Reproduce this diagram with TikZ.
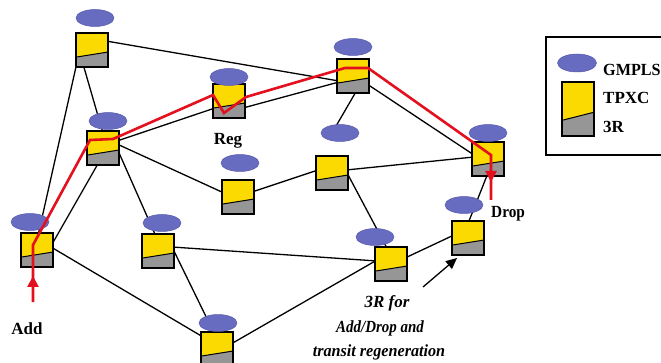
\documentclass[tikz,border=0pt]{standalone}
\usepackage{fontspec}
\setmainfont{Liberation Serif}
\usetikzlibrary{shapes.geometric,calc,backgrounds,arrows.meta}
\definecolor{gmpls}{RGB}{104,108,192}
\definecolor{gmplsline}{RGB}{86,90,172}
\definecolor{tpxcy}{RGB}{250,218,0}
\definecolor{regray}{RGB}{150,150,150}
\definecolor{pathred}{RGB}{228,16,30}
\begin{document}
\begin{tikzpicture}[x=1pt,y=-1pt,
  tpxc/.style={draw=black, line width=1.6pt, minimum width=32pt, minimum height=34pt, inner sep=0pt,
    path picture={
      \fill[tpxcy] (path picture bounding box.south west) rectangle (path picture bounding box.north east);
      \coordinate (dl) at ($(path picture bounding box.south west)!0.29!(path picture bounding box.north west)$);
      \coordinate (dr) at ($(path picture bounding box.south east)!0.44!(path picture bounding box.north east)$);
      \fill[regray] (path picture bounding box.south west) -- (dl) -- (dr) -- (path picture bounding box.south east) -- cycle;
      \draw[black, line width=1pt] (dl) -- (dr);
    }},
  gm/.style={ellipse, fill=gmpls, draw=gmplsline, line width=0.5pt, minimum width=38pt, minimum height=17pt, inner sep=0pt},
  link/.style={draw=black, line width=1.3pt},
  redpath/.style={draw=pathred, line width=2.6pt, line join=miter},
  lbl/.style={font=\fontsize{17}{17}\selectfont\bfseries, inner sep=0pt},
  note/.style={font=\fontsize{17}{17}\selectfont\bfseries\itshape, inner sep=0pt}
]
\useasboundingbox (0,0) rectangle (661,363);
\clip (0,0) rectangle (661,363);

% TPXC / 3R boxes
\node[tpxc] (A) at (92,50) {};
\node[tpxc] (B) at (103,148) {};
\node[tpxc] (Rg) at (229,101) {};
\node[tpxc] (C) at (353,76) {};
\node[tpxc] (D) at (488,159) {};
\node[tpxc] (E) at (238,197) {};
\node[tpxc] (F) at (332,173) {};
\node[tpxc] (G) at (37,250) {};
\node[tpxc] (H) at (158,251) {};
\node[tpxc] (I) at (217,349) {};
\node[tpxc] (J) at (391,264) {};
\node[tpxc] (K) at (468,238) {};

% GMPLS controllers
\node[gm] (Ae) at (95,18) {};
\node[gm] (Be) at (108,121) {};
\node[gm] (Rge) at (229,77) {};
\node[gm] (Ce) at (353,47) {};
\node[gm] (De) at (488,133) {};
\node[gm] (Ee) at (240,163) {};
\node[gm] (Fe) at (340,133) {};
\node[gm] (Ge) at (30,222) {};
\node[gm] (He) at (162,223) {};
\node[gm] (Ie) at (218,323) {};
\node[gm] (Je) at (375,237) {};
\node[gm] (Ke) at (464,205) {};

% links (behind the nodes)
\begin{pgfonlayer}{background}
\draw[link] ($(A)+(14,-9)$) -- ($(C)+(-14,5)$);
\draw[link] ($(Rg)+(14,7)$) -- ($(C)+(-14,6)$);
\draw[link] ($(A)+(-9,14)$) -- ($(B)+(2,-8)$);
\draw[link] ($(A)+(-14,8)$) -- ($(G)+(0,-10)$);
\draw[link] ($(B)+(14,-7)$) -- ($(Rg)+(-14,7)$);
\draw[link] ($(B)+(14,-4)$) -- ($(E)+(-14,-4)$);
\draw[link] ($(B)+(13,-2)$) -- ($(H)+(0,-10)$);
\draw[link] ($(B)+(-4,14)$) -- ($(G)+(14,-4)$);
\draw[link] ($(G)+(14,-3)$) -- ($(I)+(-14,-12)$);
\draw[link] ($(H)+(14,-4)$) -- ($(I)+(-2,-14)$);
\draw[link] ($(H)+(14,-4)$) -- ($(J)+(-14,-3)$);
\draw[link] ($(I)+(14,-5)$) -- ($(J)+(-14,-4)$);
\draw[link] ($(J)+(14,-6)$) -- ($(K)+(-14,-3)$);
\draw[link] ($(F)+(14,-2)$) -- ($(J)+(-3,-14)$);
\draw[link] ($(E)+(14,-5)$) -- ($(F)+(-14,-3)$);
\draw[link] ($(C)+(4,14)$) -- ($(Fe)+(-8,0)$);
\draw[link] ($(F)+(14,-3)$) -- ($(D)+(-14,-2)$);
\draw[link] ($(C)+(14,8)$) -- ($(D)+(-14,-4)$);
\draw[link] ($(D)+(0,14)$) -- ($(K)+(-1,-12)$);
\end{pgfonlayer}

% red lightpath
\coordinate (addpt) at (33,302);
\coordinate (droppt) at (491,200);
\draw[redpath] (addpt) -- ($(G)+(-4,-5)$) -- ($(B)+(-13,-8)$) -- ($(B)+(10,-9)$)
  -- ($(Rg)+(-16,-6)$) -- ($(Rg)+(-5,12)$) -- ($(Rg)+(17,-4)$)
  -- ($(C)+(-8,-8)$) -- ($(C)+(15,-8)$) -- ($(D)+(3,-4)$) -- (droppt);
\draw[draw=pathred, line width=2.6pt, -{Triangle[length=11pt,width=11pt]}] (addpt) -- ($(G)+(-4,26)$);
\draw[draw=pathred, line width=2.6pt, -{Triangle[length=11pt,width=11pt]}] ($(D)+(3,-4)$) -- ($(D)+(3,23)$);

% black annotation arrow
\coordinate (atail) at (423,287);
\draw[link, -{Triangle[length=11pt,width=10pt]}] (atail) -- ($(K)+(-11,20)$);

% labels
\node[lbl, anchor=base] (reglbl) at (228,145) {Reg};
\node[lbl, anchor=base] (addlbl) at (27,334) {Add};
\node[lbl, anchor=base west] (droplbl) at (491,218) {\scalebox{0.9}[1]{Drop}};
\node[note, anchor=base] (n1) at (387,307) {3R for};
\node[note, anchor=base] (n2) at (380,332) {\scalebox{0.88}[1]{Add/Drop and}};
\node[note, anchor=base] (n3) at (379,356) {\scalebox{0.95}[1]{transit regeneration}};

% legend
\draw[line width=1.2pt] (546,37) rectangle (668,155);
\node[gm, minimum width=39pt, minimum height=18pt] (lgm) at (577,63) {};
\node[tpxc, minimum height=54pt] (ltp) at (578,109) {};
\node[lbl, anchor=base west] (lt1) at (603,76) {\scalebox{0.95}[1]{GMPLS}};
\node[lbl, anchor=base west] (lt2) at (603,104) {TPXC};
\node[lbl, anchor=base west] (lt3) at (603,133) {3R};
\end{tikzpicture}
\end{document}
